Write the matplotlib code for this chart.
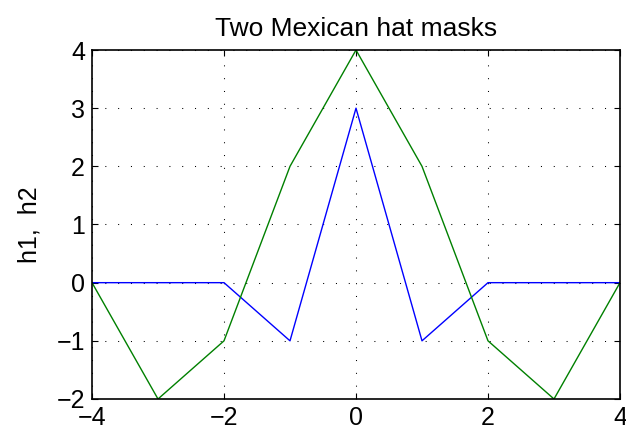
import matplotlib
matplotlib.use("Agg")
import matplotlib.pyplot as plt
import numpy as np

x = [-4, -3, -2, -1, 0, 1, 2, 3, 4]
h1 = [0, 0, 0, -1, 3, -1, 0, 0, 0]
h2 = [0, -2, -1, 2, 4, 2, -1, -2, 0]
xticks = [-4, -2, 0, 2, 4]
yticks = [-2, -1, 0, 1, 2, 3, 4]

plt.rcParams['font.family'] = ['Liberation Sans', 'DejaVu Sans']
plt.rcParams['axes.unicode_minus'] = True

fig = plt.figure(figsize=(6.26, 4.34), dpi=100)
ax = fig.add_axes([92/626, 1-399/434, (620-92)/626, (399-50)/434])
ax.plot(x, h1, color='#0000ff', lw=1.0)
ax.plot(x, h2, color='#008000', lw=1.0)
ax.set_xlim(-4, 4)
ax.set_ylim(-2, 4)
ax.set_xticks(xticks)
ax.set_yticks(yticks)
ax.set_xticklabels([str(v).replace('-', '\u2212') for v in xticks])
ax.set_yticklabels([str(v).replace('-', '\u2212') for v in yticks])
ax.grid(True, linestyle=(0, (1, 11.3)), color='black', lw=0.75)
ax.tick_params(direction='in', length=4.5, width=0.8, labelsize=18, top=True, right=True, pad=5)
for s in ax.spines.values():
    s.set_linewidth(1.2)
ax.set_title('Two Mexican hat masks', fontsize=19, pad=10)
ax.set_ylabel('h1,  h2', fontsize=18, labelpad=11)
fig.savefig('out.png', dpi=100)
